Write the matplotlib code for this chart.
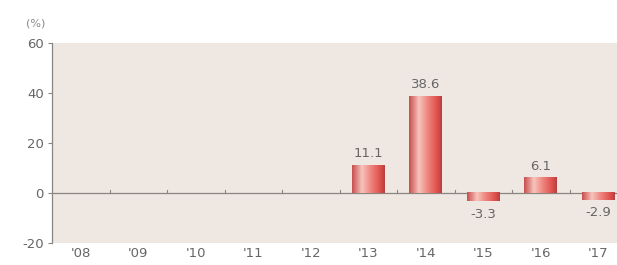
import numpy as np
import matplotlib.pyplot as plt
from matplotlib.colors import LinearSegmentedColormap

years = ["'08", "'09", "'10", "'11", "'12", "'13", "'14", "'15", "'16", "'17"]
growth = [0, 0, 0, 0, 0, 11.1, 38.6, -3.3, 6.1, -2.9]
labels = ["", "", "", "", "", "11.1", "38.6", "-3.3", "6.1", "-2.9"]
yticks = [-20, 0, 20, 40, 60]

W, H = 617, 265
fig = plt.figure(figsize=(W / 100, H / 100), dpi=100)
fig.patch.set_facecolor("white")
ax = fig.add_axes([52 / W, 22 / H, 575 / W, 200 / H])
ax.set_facecolor("#efe8e2")

# bar shading, dark edges and a pale stripe left of centre
cmap = LinearSegmentedColormap.from_list(
    "barshade", [(0, "#c8504f"), (0.3, "#f7c4bd"), (0.55, "#ef8a82"),
                 (0.85, "#e0524f"), (1, "#b8403f")])
grad = np.linspace(0, 1, 64).reshape(1, -1)

x = np.arange(len(years))
bw = 0.57
bars = ax.bar(x, growth, width=bw, color="none", edgecolor="none", zorder=3)
for b, v in zip(bars, growth):
    if v == 0:
        continue
    x0 = b.get_x()
    ax.imshow(grad, cmap=cmap, aspect="auto", zorder=3,
              extent=[x0, x0 + bw, min(0, v), max(0, v)])

txt = "#666666"
for xi, v, lab in zip(x, growth, labels):
    if not lab:
        continue
    if v >= 0:
        ax.text(xi, v + 2, lab, ha="center", va="bottom", fontsize=9.5, color=txt)
    else:
        ax.text(xi, v - 2.5, lab, ha="center", va="top", fontsize=9.5, color=txt)

ax.axhline(0, color="#8a8580", lw=0.9, zorder=2)
# little ticks between the years on the zero line
for b in x[:-1] + 0.5:
    ax.plot([b, b], [0, 1.2], color="#8a8580", lw=0.8, zorder=2)

ax.set_xlim(-0.5, 9.5)
ax.set_ylim(-20, 60)
ax.set_xticks(x)
ax.set_xticklabels(years, fontsize=9.5, color=txt)
ax.set_yticks(yticks)
ax.set_yticklabels([str(t) for t in yticks], fontsize=9.5, color=txt)
ax.tick_params(axis="x", length=0, pad=3)
ax.tick_params(axis="y", length=3, width=0.8, color="#8a8580", pad=3)
for s in ["top", "right", "bottom"]:
    ax.spines[s].set_visible(False)
ax.spines["left"].set_color("#8a8580")
ax.spines["left"].set_linewidth(0.9)

fig.text(26 / W, 1 - 24 / H, "(%)", fontsize=8, color="#888888", va="center")

fig.savefig("out.png", dpi=100)
